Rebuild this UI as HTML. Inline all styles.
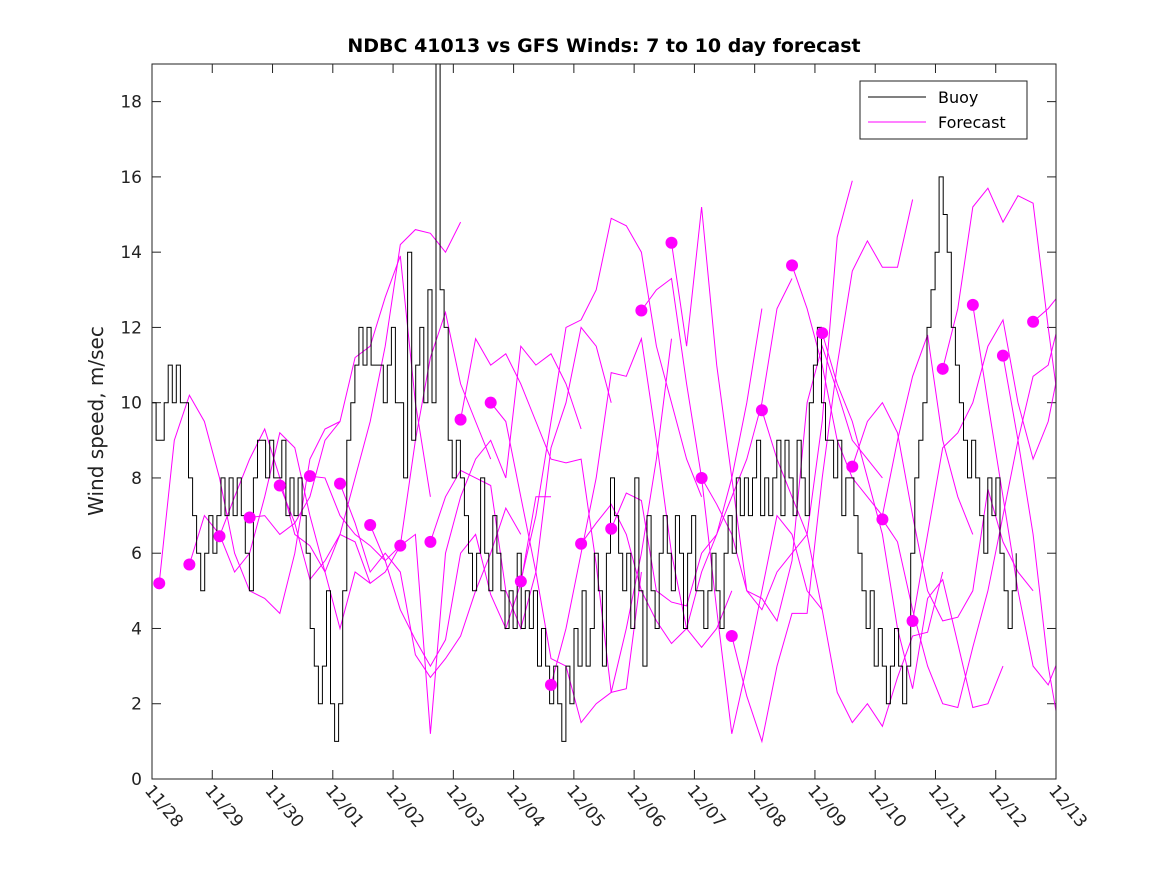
<!DOCTYPE html>
<html><head><meta charset="utf-8"><style>
body{margin:0;background:#fff;width:1167px;height:875px;overflow:hidden}
svg{font-family:"DejaVu Sans","Liberation Sans",sans-serif}
</style></head><body>
<svg id="chart" width="1167" height="875" xmlns="http://www.w3.org/2000/svg">
<rect width="1167" height="875" fill="#fff"/>
<text x="604" y="52" text-anchor="middle" font-size="19" font-weight="bold" fill="#000">NDBC 41013 vs GFS Winds: 7 to 10 day forecast</text>
<text transform="translate(103,421) rotate(-90)" text-anchor="middle" font-size="20" fill="#222">Wind speed, m/sec</text>
<defs><clipPath id="pc"><rect x="152" y="64" width="904" height="715"/></clipPath></defs>
<g id="axes"></g>
<g id="forecast" clip-path="url(#pc)"></g>
<g id="buoy" clip-path="url(#pc)"></g>
<g id="dots"></g>
<rect x="152" y="64" width="904" height="715" fill="none" stroke="#222" stroke-width="1"/>
<g>
<rect x="860" y="81" width="167" height="58" fill="#fff" stroke="#222"/>
<line x1="868" y1="97" x2="926" y2="97" stroke="#000"/>
<text x="938" y="103" font-size="16">Buoy</text>
<line x1="868" y1="122" x2="926" y2="122" stroke="#f0f"/>
<text x="938" y="128" font-size="16">Forecast</text>
</g>
</svg>
<script>
const xTickLabels=["11/28","11/29","11/30","12/01","12/02","12/03","12/04","12/05","12/06","12/07","12/08","12/09","12/10","12/11","12/12","12/13"];
const yTicks=[0,2,4,6,8,10,12,14,16,18];
const buoyStart=0, buoyEnd=14.34;
const buoyValues=[10,9,9,10,11,10,11,10,10,8,7,6,5,6,7,6,7,8,7,8,7,8,7,6,5,8,9,9,8,9,8,8,9,7,8,7,8,7,6,4,3,2,3,5,2,1,2,5,9,10,11,12,11,12,11,11,11,10,11,12,10,10,8,14,9,11,12,10,13,10,19,13,12,9,8,9,8,7,6,5,6,8,6,5,7,6,5,4,5,4,6,4,5,4,5,3,4,3,2,3,2,1,3,2,4,3,5,3,4,6,5,3,6,8,7,6,5,6,4,8,5,3,7,5,4,6,7,6,5,7,6,4,6,7,5,5,4,5,6,5,4,6,7,6,8,7,8,7,8,9,7,8,7,8,9,7,9,8,7,9,8,7,10,11,12,10,9,9,8,9,7,8,8,7,6,5,4,5,3,4,3,2,3,4,3,2,3,6,8,9,10,12,13,14,16,15,14,12,11,10,9,8,9,8,7,6,8,7,8,6,5,4,5,6];
const fcStart=[0.12,0.62,1.12,1.62,2.12,2.62,3.12,3.62,4.12,4.62,5.12,5.62,6.12,6.62,7.12,7.62,8.12,8.62,9.12,9.62,10.12,10.62,11.12,11.62,12.12,12.62,13.12,13.62,14.12,14.62];
const fcStep=0.25;
const fc0=[5.2,9,10.2,9.5,8,6,5,4.8,4.4,6,8.5,9.3,9.5];
const fc1=[5.7,7,6.5,5.5,6,7.5,9.2,8.8,7,5.5,4,5.5,5.2];
const fc2=[6.45,7.5,8.5,9.3,8,6.5,6.2,5.5,6.5,6.3,5.2,5.5,6.2];
const fc3=[6.95,7,6.5,6.8,7.5,9,9.5,11.2,11.5,12.8,13.9,10,7.5];
const fc4=[7.8,6.8,5.3,5.8,6.5,8,9.5,11.5,14.2,14.6,14.5,14,14.8];
const fc5=[8.05,8,7,6.5,6.2,5.8,6.2,9,11.2,12.4,10.5,9.5,8.5];
const fc6=[7.85,6.8,5.5,6,5.5,3.3,2.7,3.2,3.8,5,6,7.2,6.5];
const fc7=[6.75,5.8,4.5,3.7,3,3.7,6,6.5,4.9,4,5.2,7.5,7.5];
const fc8=[6.2,6.5,1.2,6,7.5,8.5,9,8,11.5,11,11.3,10.5,9.3];
const fc9=[6.3,7.5,8.2,8,7.8,5,4,5.5,8.8,10,12,11.5,10];
const fc10=[9.55,11.7,11,11.3,10.5,9.5,8.5,8.4,8.5,5.7,2.3,2.4,5.5];
const fc11=[10,9.5,7.5,5.5,3.2,3,1.5,2,2.3,4,6,8.5,11.7];
const fc12=[5.25,7,9.5,12,12.2,13,14.9,14.7,14,11.5,10,8.5,7.5];
const fc13=[2.5,4,6,8,10.8,10.7,11.7,9,6,4,3.5,4,5];
const fc14=[6.25,6.8,7.3,6.5,5,4.2,3.6,4,5.5,6.5,8,10,12.5];
const fc15=[6.65,7.6,7.4,5,4.7,4.6,6,6.5,7.5,8.5,10,12.5,13.3];
const fc16=[12.45,13,13.3,10.5,8,4.5,1.2,3,5,7,6.5,5,4.5];
const fc17=[14.25,11.5,15.2,11,8,5,4.5,5.5,6,6.5,9.5,14.4,15.9];
const fc18=[8,7.3,6.5,5,4.8,4.2,5.8,10,11.5,10.3,9,8.5,8];
const fc19=[3.8,2.2,1,3,4.4,4.4,8,11,13.5,14.3,13.6,13.6,15.4];
const fc20=[9.8,8.5,7.5,6.5,4.5,2.3,1.5,2,1.4,2.7,3.8,3.9,5.5];
const fc21=[13.65,12.5,11,9,8,7.5,7,9,10.7,11.8,9,7.5,6.5];
const fc22=[11.85,10.5,9.5,8,6.5,4,2.4,4.8,5.3,3.6,1.9,2,3];
const fc23=[8.3,9.5,10,9.2,7,5,4.2,4.3,5,7.7,6.3,5.5,5];
const fc24=[6.9,6.3,4.5,3,2,1.9,3.5,5,7,9,10.7,11,12.6];
const fc25=[4.2,6.5,8.8,9.2,10,11.5,12.2,10,8.5,9.5,11.5,13,14.8];
const fc26=[10.9,12.5,15.2,15.7,14.8,15.5,15.3,12,9,7.3,8.5,9.5,10.8];
const fc27=[12.6,10,7.5,5,3,2.5,3.5,6,9.5,12,14.5,14.8,14.3];
const fc28=[11.25,9,6.5,3,0.7,1.8,5.5,6.5,8];
const fc29=[12.15,12.5,13,12,11.3];
const fcSeries=[fc0,fc1,fc2,fc3,fc4,fc5,fc6,fc7,fc8,fc9,fc10,fc11,fc12,fc13,fc14,fc15,fc16,fc17,fc18,fc19,fc20,fc21,fc22,fc23,fc24,fc25,fc26,fc27,fc28,fc29];

const X0=152,X1=1056,Y0=779,Y1=64,XMAX=15,YMAX=19;
const xs=d=>X0+(X1-X0)*d/XMAX;
const ys=v=>Y0-(Y0-Y1)*v/YMAX;
const NS="http://www.w3.org/2000/svg";
function mk(tag,attrs,parent){const e=document.createElementNS(NS,tag);for(const k in attrs)e.setAttribute(k,attrs[k]);parent.appendChild(e);return e;}
const axes=document.getElementById('axes');
xTickLabels.forEach((lab,i)=>{
  const x=xs(i);
  const t1=mk('line',{x1:x,y1:Y0,x2:x,y2:Y0-9,stroke:'#222'},axes);
  
  
  const t2=mk('line',{x1:x,y1:Y1,x2:x,y2:Y1+9,stroke:'#222'},axes);
  
  
  const tx=mk('text',{x:0,y:0,'font-size':'17',fill:'#222',transform:`translate(${x-8},${Y0+12}) rotate(50)`},axes);
  tx.textContent=lab;
  
  
});
yTicks.forEach(v=>{
  const y=ys(v);
  const t1=mk('line',{x1:X0,y1:y,x2:X0+9,y2:y,stroke:'#222'},axes);
  
  
  const t2=mk('line',{x1:X1,y1:y,x2:X1-9,y2:y,stroke:'#222'},axes);
  
  
  const tx=mk('text',{x:X0-10,y:y+6,'font-size':'17','text-anchor':'end',fill:'#222'},axes);
  tx.textContent=v;
  
  
});
const fg=document.getElementById('forecast');
fcSeries.forEach((s,k)=>{
  const pts=s.map((v,i)=>xs(fcStart[k]+i*fcStep).toFixed(1)+','+ys(v).toFixed(1)).join(' ');
  const pl=mk('polyline',{points:pts,fill:'none',stroke:'#f0f','stroke-width':'1'},fg);
  
  
});
const bg=document.getElementById('buoy');
const bstep=(buoyEnd-buoyStart)/(buoyValues.length-1);
let d='';
buoyValues.forEach((v,i)=>{
  const x=xs(buoyStart+i*bstep).toFixed(1),y=ys(v).toFixed(1);
  if(i===0)d+=`M${x},${y}`;else d+=`H${x}V${y}`;
});
const bp=mk('path',{d:d,fill:'none',stroke:'#000','stroke-width':'1'},bg);


const dg=document.getElementById('dots');
fcSeries.forEach((s,k)=>{
  const c=mk('circle',{cx:xs(fcStart[k]),cy:ys(s[0]),r:6,fill:'#f0f'},dg);
  
  
});
</script>
</body></html>
